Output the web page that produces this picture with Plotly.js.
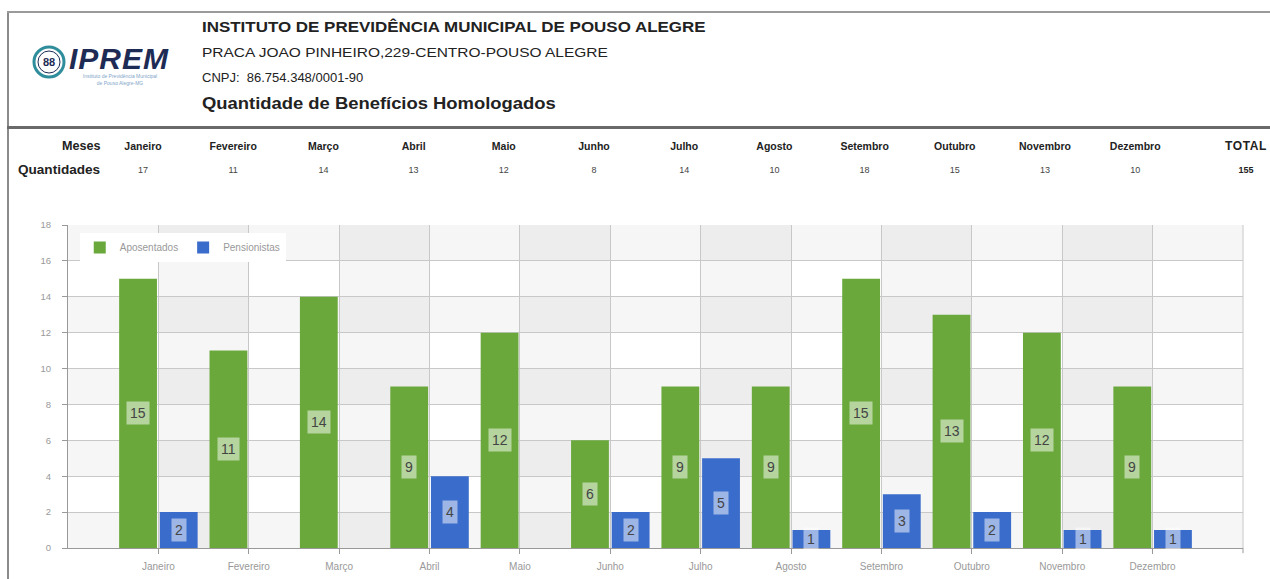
<!DOCTYPE html>
<html>
<head>
<meta charset="utf-8">
<script src="https://cdn.plot.ly/plotly-3.0.1.min.js"></script>
<style>
  body { margin: 0; width: 1270px; height: 579px; overflow: hidden; background: #fff; font-family: "Liberation Sans", Arial, sans-serif; }
  #plot { position: absolute; left: 0; top: 0; width: 1270px; height: 579px; }
  .t { position: absolute; white-space: nowrap; line-height: 20px; color: #222; transform-origin: left center; }
  .b { font-weight: bold; }
  .c { transform: translateX(-50%); }
  #frame-left { position: absolute; left: 7px; top: 12px; width: 2px; height: 567px; background: #8a8a8a; }
  #frame-top { position: absolute; left: 7px; top: 11px; width: 1263px; height: 2px; background: #9a9a9a; }
  #frame-mid { position: absolute; left: 7px; top: 126px; width: 1263px; height: 3px; background: #6a6a6a; }
  #header, #table { position: absolute; left: 0; top: 0; z-index: 2; pointer-events: none; }
</style>
</head>
<body>
<div id="plot"></div>
<div id="frame-left"></div>
<div id="frame-top"></div>
<div id="frame-mid"></div>

<div id="header">
  <svg style="position:absolute;left:31px;top:44px" width="38" height="38">
    <circle cx="18" cy="18" r="15" fill="none" stroke="#2f8d9c" stroke-width="3"/>
    <circle cx="18" cy="18" r="11" fill="none" stroke="#1d2b55" stroke-width="1"/>
    <text x="18" y="22" font-size="11" font-weight="bold" text-anchor="middle" fill="#1d2b55" font-family="Liberation Sans, Arial">88</text>
  </svg>
  <div class="t b" style="left:69px;top:44px;font-size:30px;line-height:30px;font-style:italic;color:#1d2b55;letter-spacing:1px">IPREM</div>
  <div class="t c" style="left:120px;top:73px;font-size:5px;line-height:6px;color:#7fa6c9">Instituto de Previdência Municipal</div>
  <div class="t c" style="left:120px;top:80px;font-size:5px;line-height:6px;color:#7fa6c9">de Pouso Alegre-MG</div>

  <div class="t b" style="left:202px;top:17px;font-size:15px;transform:scaleX(1.13)">INSTITUTO DE PREVIDÊNCIA MUNICIPAL DE POUSO ALEGRE</div>
  <div class="t" style="left:202px;top:43px;font-size:13px;transform:scaleX(1.19)">PRACA JOAO PINHEIRO,229-CENTRO-POUSO ALEGRE</div>
  <div class="t" style="left:202px;top:68px;font-size:13px">CNPJ:&nbsp; 86.754.348/0001-90</div>
  <div class="t b" style="left:202px;top:94px;font-size:16px;transform:scaleX(1.15)">Quantidade de Benefícios Homologados</div>
</div>
<div id="table"></div>

<script>
// Data
const meses = ['Janeiro', 'Fevereiro', 'Março', 'Abril', 'Maio', 'Junho', 'Julho', 'Agosto', 'Setembro', 'Outubro', 'Novembro', 'Dezembro'];
const quantidades = [17, 11, 14, 13, 12, 8, 14, 10, 18, 15, 13, 10];
const total = 155;
const aposentados = [15, 11, 14, 9, 12, 6, 9, 9, 15, 13, 12, 9];
const pensionistas = [2, 0, 0, 4, 0, 2, 5, 1, 3, 2, 1, 1];

const green = '#6aa83c';
const blue = '#3a6ccb';

// Summary table above the chart
function buildTable() {
    const table = document.getElementById('table');
    let html = '';
    html += '<div class="t b" style="left:62px;top:136px;font-size:12px;transform:scaleX(1.05)">Meses</div>';
    html += '<div class="t b" style="left:18px;top:160px;font-size:12px;transform:scaleX(1.13)">Quantidades</div>';
    meses.forEach((m, i) => {
        const x = 143 + i * 90.2;
        html += `<div class="t b c" style="left:${x}px;top:136px;font-size:10.5px">${m}</div>`;
        html += `<div class="t c" style="left:${x}px;top:160px;font-size:9px;color:#444">${quantidades[i]}</div>`;
    });
    html += '<div class="t b c" style="left:1246px;top:136px;font-size:12px;letter-spacing:0.6px">TOTAL</div>';
    html += `<div class="t b c" style="left:1246px;top:160px;font-size:9px">${total}</div>`;
    table.innerHTML = html;
}

// Alternating band shading, vertical and horizontal
function bandShapes() {
    const shapes = [];
    for (let i = 0; i < meses.length; i += 2) {
        shapes.push({type: 'rect', xref: 'x', yref: 'paper', x0: i, x1: i + 1, y0: 0, y1: 1,
            fillcolor: 'rgba(0,0,0,0.035)', line: {width: 0}, layer: 'below'});
    }
    for (let v = 0; v < 18; v += 4) {
        shapes.push({type: 'rect', xref: 'paper', yref: 'y', x0: 0, x1: 1, y0: v, y1: v + 2,
            fillcolor: 'rgba(0,0,0,0.035)', line: {width: 0}, layer: 'below'});
    }
    // right border of the plot area and its small tick
    shapes.push({type: 'line', xref: 'paper', yref: 'paper', x0: 1, x1: 1, y0: 0, y1: 1,
        line: {color: '#c8c8c8', width: 1}});
    shapes.push({type: 'line', xref: 'paper', yref: 'paper', x0: 1, x1: 1, y0: 0, y1: -0.016,
        line: {color: '#999', width: 1}});
    return shapes;
}

// Value boxes in the middle of each bar
function valueLabels(slot) {
    const ann = [];
    const add = (vals, shift) => {
        vals.forEach((v, i) => {
            if (v <= 0) return;
            ann.push({x: meses[i], y: v / 2, xref: 'x', yref: 'y', text: String(v), showarrow: false,
                xshift: shift, font: {size: 14, color: '#444', family: 'Liberation Sans, Arial'},
                bgcolor: 'rgba(255,255,255,0.5)', borderpad: 3});
        });
    };
    add(aposentados, -slot / 2);
    add(pensionistas, slot / 2);
    return ann;
}

function draw() {
    const plotW = 1270 - 68 - 27;
    const catW = plotW / 13;
    const bargap = 0.1;
    const slot = catW * (1 - bargap) / 2;

    const traceA = {
        x: meses, y: aposentados, type: 'bar', name: 'Aposentados',
        marker: {color: green}, hoverinfo: 'none'
    };
    const traceP = {
        x: meses, y: pensionistas, type: 'bar', name: 'Pensionistas',
        marker: {color: blue}, hoverinfo: 'none'
    };
    const layout = {
        width: 1270, height: 579,
        margin: {l: 68, r: 27, t: 225, b: 31},
        paper_bgcolor: 'rgba(0,0,0,0)',
        plot_bgcolor: '#fff',
        barmode: 'group', bargap: bargap, bargroupgap: 0.07,
        font: {family: 'Liberation Sans, Arial', color: '#999'},
        xaxis: {
            type: 'category', range: [-1, 12],
            showgrid: true, gridcolor: '#c8c8c8', gridwidth: 1,
            showline: true, linecolor: '#999', linewidth: 1,
            ticks: 'outside', ticklen: 5, tickcolor: '#999',
            ticklabelstandoff: 4,
            tickfont: {size: 10, color: '#999'}, fixedrange: true
        },
        yaxis: {
            range: [0, 18], dtick: 2, tick0: 0,
            showgrid: true, gridcolor: '#c8c8c8', gridwidth: 1,
            showline: true, linecolor: '#999', linewidth: 1,
            ticks: 'outside', ticklen: 5, tickcolor: '#999',
            ticklabelstandoff: 9,
            tickfont: {size: 9.5, color: '#999'}, zeroline: false, fixedrange: true
        },
        legend: {
            orientation: 'h', x: 0.01, y: 0.975, xanchor: 'left', yanchor: 'top',
            bgcolor: '#fff', font: {size: 10, color: '#999'}, itemwidth: 30
        },
        showlegend: true,
        shapes: bandShapes(),
        annotations: valueLabels(slot)
    };
    Plotly.newPlot('plot', [traceA, traceP], layout, {displayModeBar: false, staticPlot: true});
}

buildTable();
draw();
</script>
</body>
</html>
